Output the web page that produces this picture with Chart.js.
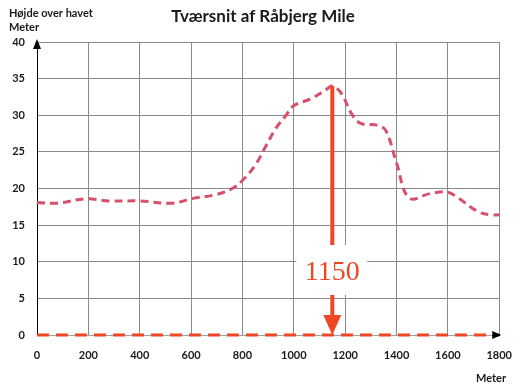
<!DOCTYPE html>
<html>
<head>
<meta charset="utf-8">
<script src="https://cdn.jsdelivr.net/npm/chart.js@4.4.1/dist/chart.umd.min.js"></script>
<style>
  html, body { margin: 0; padding: 0; background: #fff; }
  #wrap { width: 526px; height: 385px; }
</style>
</head>
<body>
<div id="wrap"><canvas id="profileChart" width="526" height="385"></canvas></div>
<script>
// profile of the dune
const distance = [0, 80, 190, 280, 400, 530, 600, 700, 760, 800, 850, 890, 930, 970, 1000, 1070, 1130, 1150, 1185, 1225, 1260, 1330, 1360, 1400, 1450, 1530, 1600, 1640, 1720, 1770, 1800];
const height   = [18.1, 18.0, 18.6, 18.3, 18.3, 18.0, 18.6, 19.2, 20.0, 21.1, 23.2, 25.7, 28.2, 30.0, 31.3, 32.3, 33.6, 34.0, 33.0, 30.2, 28.9, 28.6, 27.8, 23.5, 18.7, 19.3, 19.5, 18.7, 16.8, 16.4, 16.4];

// sea level line
const seaX = [0, 1800];
const seaY = [0, 0];

// the marked top
const markX = 1150;
const markTop = 34;
const markLabelY = 8.6;
const markText = '1150';

const titleText = 'Tværsnit af Råbjerg Mile';
const yTitle = ['Højde over havet', 'Meter'];
const xTitle = 'Meter';

const RED = '#ef4723';
const PINK = '#d6506c';
const FONT = 'Lato, "Liberation Sans", sans-serif';

// extras: title, axis arrows, 1150 marker
const extras = {
  id: 'extras',
  afterDatasetsDraw(chart) {
    const { ctx, chartArea: a, scales: { x, y } } = chart;
    ctx.save();

    // axis arrows
    ctx.fillStyle = '#000';
    ctx.beginPath();
    ctx.moveTo(a.left, a.top - 3);
    ctx.lineTo(a.left - 4, a.top + 7);
    ctx.lineTo(a.left + 4, a.top + 7);
    ctx.closePath();
    ctx.fill();
    ctx.beginPath();
    ctx.moveTo(a.right + 2, a.bottom);
    ctx.lineTo(a.right - 7, a.bottom - 4);
    ctx.lineTo(a.right - 7, a.bottom + 4);
    ctx.closePath();
    ctx.fill();

    // marker
    const mx = x.getPixelForValue(markX);
    const top = y.getPixelForValue(markTop);
    const ly = y.getPixelForValue(markLabelY);
    const base = y.getPixelForValue(0);

    ctx.fillStyle = '#fff';
    ctx.fillRect(mx - 36, ly - 27, 71, 50);

    ctx.strokeStyle = RED;
    ctx.lineWidth = 4;
    ctx.beginPath();
    ctx.moveTo(mx, top);
    ctx.lineTo(mx, ly - 27);
    ctx.moveTo(mx, ly + 23);
    ctx.lineTo(mx, base - 18);
    ctx.stroke();

    ctx.fillStyle = RED;
    ctx.beginPath();
    ctx.moveTo(mx, base);
    ctx.lineTo(mx - 9, base - 20);
    ctx.lineTo(mx + 9, base - 20);
    ctx.closePath();
    ctx.fill();

    ctx.font = '28px "Liberation Serif", serif';
    ctx.textAlign = 'center';
    ctx.textBaseline = 'middle';
    ctx.fillText(markText, mx, ly + 1);

    // texts
    ctx.fillStyle = '#1a1a1a';
    ctx.font = 'bold 17px ' + FONT;
    ctx.textBaseline = 'alphabetic';
    ctx.fillText(titleText, 263, 22);

    ctx.font = 'bold 11px ' + FONT;
    ctx.textAlign = 'left';
    ctx.fillText(yTitle[0], 9, 17);
    ctx.fillText(yTitle[1], 9, 31);
    ctx.fillText(xTitle, 476, 382);

    ctx.restore();
  }
};

const ctx = document.getElementById('profileChart').getContext('2d');

new Chart(ctx, {
  type: 'line',
  data: {
    datasets: [{
      data: distance.map((d, i) => ({ x: d, y: height[i] })),
      borderColor: PINK,
      borderWidth: 3,
      borderDash: [8, 5],
      pointRadius: 0,
      tension: 0.4,
      fill: false
    }, {
      data: seaX.map((d, i) => ({ x: d, y: seaY[i] })),
      borderColor: RED,
      borderWidth: 3,
      borderDash: [12, 7],
      pointRadius: 0,
      clip: false,
      fill: false
    }]
  },
  options: {
    responsive: false,
    animation: false,
    layout: { padding: { top: 42, right: 25, left: 0, bottom: 0 } },
    plugins: { legend: { display: false }, tooltip: { enabled: false } },
    scales: {
      x: {
        type: 'linear',
        min: 0,
        max: 1800,
        afterFit(s) { s.height = 50; },
        border: { color: '#9aa4b0', width: 1 },
        grid: { color: '#8a8a8a', lineWidth: 1, drawTicks: false },
        ticks: {
          stepSize: 200,
          padding: 14,
          color: '#1a1a1a',
          maxRotation: 0,
          callback: v => String(v),
          font: { family: FONT, size: 11, weight: 'bold' }
        }
      },
      y: {
        min: 0,
        max: 40,
        afterFit(s) { s.width = 37; },
        border: { color: '#000', width: 1 },
        grid: { color: '#8a8a8a', lineWidth: 1, drawTicks: false },
        ticks: {
          stepSize: 5,
          padding: 12,
          color: '#1a1a1a',
          callback: v => String(v),
          font: { family: FONT, size: 11, weight: 'bold' }
        }
      }
    }
  },
  plugins: [extras]
});
</script>
</body>
</html>
